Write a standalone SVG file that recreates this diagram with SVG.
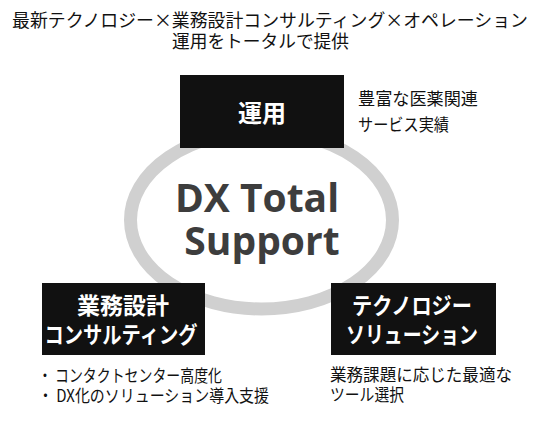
<svg xmlns="http://www.w3.org/2000/svg" width="540" height="429" viewBox="0 0 540 429">
<style>
.t{font-family:"Noto Sans CJK JP","Noto Sans",sans-serif;fill:#111;font-size:17px}
.b{fill:#111}
.w{font-family:"Noto Sans CJK JP","Noto Sans",sans-serif;fill:#fff;font-weight:bold;font-size:23px;text-anchor:middle}
.dx{font-family:"Open Sans","Noto Sans",sans-serif;fill:#3d3d3d;font-weight:bold;font-size:39px;text-anchor:middle}
</style>
<rect width="540" height="429" fill="#fff"/>
<g id="title">
<text class="t" x="12" y="27" textLength="516" lengthAdjust="spacingAndGlyphs" style="font-size:17.8px">最新テクノロジー×業務設計コンサルティング×オペレーション</text>
<text class="t" x="172" y="48" textLength="177" lengthAdjust="spacingAndGlyphs" style="font-size:17.8px">運用をトータルで提供</text>
</g>
<g id="connectors">
<ellipse cx="261.5" cy="220" rx="131" ry="89" fill="none" stroke="#d0d0d0" stroke-width="13"/>
</g>
<g id="center">
<text class="dx" x="257" y="212">DX Total</text>
<text class="dx" x="262" y="255">Support</text>
</g>
<g id="unyo">
<rect class="b" x="180" y="75" width="164" height="73"/>
<text class="w" x="262" y="122" style="font-size:24px">運用</text>
</g>
<g id="unyo-note">
<text class="t" x="358" y="105" textLength="120" lengthAdjust="spacingAndGlyphs">豊富な医薬関連</text>
<text class="t" x="358" y="131" textLength="91" lengthAdjust="spacingAndGlyphs">サービス実績</text>
</g>
<g id="consulting">
<rect class="b" x="42" y="283" width="163" height="72"/>
<text class="w" x="123" y="314">業務設計</text>
<text class="w" x="121" y="343" textLength="153" lengthAdjust="spacingAndGlyphs">コンサルティング</text>
</g>
<g id="consulting-note">
<text class="t" x="38" y="382" textLength="184" lengthAdjust="spacingAndGlyphs">・ コンタクトセンター高度化</text>
<text class="t" x="38" y="402" textLength="231" lengthAdjust="spacingAndGlyphs">・ DX化のソリューション導入支援</text>
</g>
<g id="technology">
<rect class="b" x="331" y="283" width="165" height="72"/>
<text class="w" x="412" y="314" textLength="120" lengthAdjust="spacingAndGlyphs">テクノロジー</text>
<text class="w" x="412" y="343" textLength="132" lengthAdjust="spacingAndGlyphs">ソリューション</text>
</g>
<g id="technology-note">
<text class="t" x="330" y="381" textLength="182" lengthAdjust="spacingAndGlyphs">業務課題に応じた最適な</text>
<text class="t" x="330" y="401" textLength="74" lengthAdjust="spacingAndGlyphs">ツール選択</text>
</g>
</svg>
